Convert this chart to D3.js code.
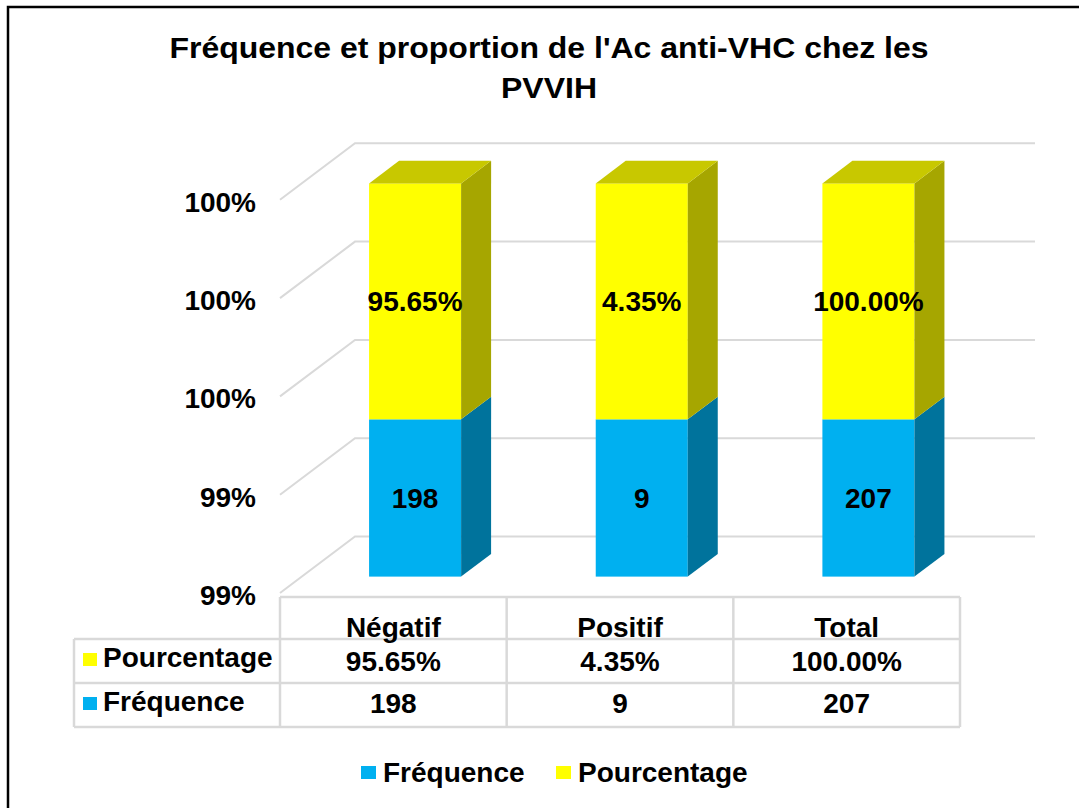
<!DOCTYPE html>
<html>
<head>
<meta charset="utf-8">
<script src="https://cdn.jsdelivr.net/npm/d3@7"></script>
<style>
  body { margin: 0; background: #fff; }
  svg text { font-family: "Liberation Sans", Arial, sans-serif; font-weight: bold; fill: #000; }
</style>
</head>
<body>
<svg id="chart" width="1079" height="808"></svg>
<script>
// data
const categories = ['Négatif', 'Positif', 'Total'];
const frequence = [198, 9, 207];
const pourcentage = [0.9565, 0.0435, 1.0];
const freqLabels = ['198', '9', '207'];
const pctLabels = ['95.65%', '4.35%', '100.00%'];
// level where the blue segment ends, as drawn in the picture (axis units)
const freqPlotted = [0.994, 0.994, 0.994];
const yTicks = [0.99, 0.9925, 0.995, 0.9975, 1.0];
const yTickLabels = ['99%', '99%', '100%', '100%', '100%'];
const seriesNames = ['Fréquence', 'Pourcentage'];

const colors = {
  freq: '#00b0f0', freqSide: '#00739c',
  pct: '#ffff00', pctSide: '#a6a600', pctTop: '#c8c800',
  grid: '#d9d9d9'
};
const fs = 28;

const svg = d3.select('#chart');

// frame
svg.append('rect')
  .attr('x', 8).attr('y', 7).attr('width', 1100).attr('height', 850)
  .attr('fill', 'none').attr('stroke', '#000').attr('stroke-width', 2.5);

// title
const title = svg.append('g').attr('transform', 'translate(549,0) scale(1.066,1)');
title.append('text').attr('x', 0).attr('y', 58).attr('text-anchor', 'middle')
  .attr('font-size', 30).text("Fréquence et proportion de l'Ac anti-VHC chez les");
title.append('text').attr('x', 0).attr('y', 98).attr('text-anchor', 'middle')
  .attr('font-size', 30).text('PVVIH');

// 3d geometry
const depth = { dx: 75, dy: -56.5 };
const barDepth = { from: 0.29, to: 0.69 };
const yMin = yTicks[0], yMax = yTicks[yTicks.length - 1];

const x = d3.scaleBand()
  .domain(categories)
  .range([280, 960])
  .paddingInner(0.594)
  .paddingOuter(0.297);

const y = d3.scaleLinear().domain([yMin, yMax]).range([593, 593 - 4 * 98.3]);

// walls / gridlines
const grid = svg.append('g').attr('stroke', colors.grid).attr('stroke-width', 2).attr('fill', 'none');
yTicks.forEach(t => {
  grid.append('polyline')
    .attr('points', [
      [x.range()[0], y(t)],
      [x.range()[0] + depth.dx, y(t) + depth.dy],
      [x.range()[1] + depth.dx, y(t) + depth.dy]
    ].join(' '));
});

// y tick labels
svg.append('g').selectAll('text')
  .data(yTicks)
  .join('text')
  .attr('x', 256)
  .attr('y', d => y(d) + 12)
  .attr('text-anchor', 'end')
  .attr('font-size', fs)
  .text((d, i) => yTickLabels[i]);

// bars
const ox = depth.dx * barDepth.from, oy = depth.dy * barDepth.from;
const bdx = depth.dx * (barDepth.to - barDepth.from), bdy = depth.dy * (barDepth.to - barDepth.from);
const bw = x.bandwidth();

const stacks = categories.map((c, i) => {
  const f = Math.min(freqPlotted[i], yMax);
  const p = Math.min(freqPlotted[i] + pourcentage[i], yMax);
  return [
    { cat: c, lo: yMin, hi: f, front: colors.freq, side: colors.freqSide, top: colors.freq, label: freqLabels[i], last: false },
    { cat: c, lo: f, hi: p, front: colors.pct, side: colors.pctSide, top: colors.pctTop, label: pctLabels[i], last: true }
  ];
});

const bars = svg.append('g').selectAll('g')
  .data(stacks)
  .join('g');

bars.each(function (segs) {
  const g = d3.select(this);
  segs.forEach(s => {
    const x0 = x(s.cat) + ox, x1 = x0 + bw;
    const yb = y(s.lo) + oy, yt = y(s.hi) + oy;
    g.append('rect')
      .attr('x', x0).attr('y', yt).attr('width', bw).attr('height', yb - yt)
      .attr('fill', s.front);
    g.append('polygon')
      .attr('points', [[x1, yt], [x1 + bdx, yt + bdy], [x1 + bdx, yb + bdy], [x1, yb]].join(' '))
      .attr('fill', s.side);
    if (s.last) {
      g.append('polygon')
        .attr('points', [[x0, yt], [x0 + bdx, yt + bdy], [x1 + bdx, yt + bdy], [x1, yt]].join(' '))
        .attr('fill', s.top);
    }
    g.append('text')
      .attr('x', x0 + bw / 2)
      .attr('y', (yt + yb) / 2 + 10)
      .attr('text-anchor', 'middle')
      .attr('font-size', fs)
      .text(s.label);
  });
});

// data table
const rowY = [597, 639, 683, 727];
const colX = [x.range()[0], ...categories.slice(1).map(c => x(c) - x.step() * x.paddingInner() / 2), x.range()[1]];
const tbl = svg.append('g').attr('stroke', colors.grid).attr('stroke-width', 2.5).attr('fill', 'none');
tbl.append('line').attr('x1', colX[0]).attr('x2', colX[3]).attr('y1', rowY[0]).attr('y2', rowY[0]);
[1, 2, 3].forEach(r => tbl.append('line').attr('x1', 74).attr('x2', colX[3]).attr('y1', rowY[r]).attr('y2', rowY[r]));
colX.forEach(cx => tbl.append('line').attr('x1', cx).attr('x2', cx).attr('y1', rowY[0]).attr('y2', rowY[3]));
tbl.append('line').attr('x1', 74).attr('x2', 74).attr('y1', rowY[1]).attr('y2', rowY[3]);

const colCenter = c => x(c) + bw / 2;
svg.append('g').selectAll('text').data(categories).join('text')
  .attr('x', colCenter).attr('y', 637).attr('text-anchor', 'middle').attr('font-size', fs)
  .text(d => d);
svg.append('g').selectAll('text').data(categories).join('text')
  .attr('x', colCenter).attr('y', 671).attr('text-anchor', 'middle').attr('font-size', fs)
  .text((d, i) => pctLabels[i]);
svg.append('g').selectAll('text').data(categories).join('text')
  .attr('x', colCenter).attr('y', 713).attr('text-anchor', 'middle').attr('font-size', fs)
  .text((d, i) => d3.format('d')(frequence[i]));

const rowKeys = [
  { name: seriesNames[1], color: colors.pct, y: 667 },
  { name: seriesNames[0], color: colors.freq, y: 711 }
];
rowKeys.forEach(k => {
  svg.append('rect').attr('x', 83).attr('y', k.y - 14).attr('width', 14).attr('height', 13).attr('fill', k.color);
  svg.append('text').attr('x', 103).attr('y', k.y).attr('font-size', fs).text(k.name);
});

// legend
const legendItems = [
  { name: seriesNames[0], color: colors.freq, x: 361 },
  { name: seriesNames[1], color: colors.pct, x: 556 }
];
const legend = svg.append('g').selectAll('g').data(legendItems).join('g')
  .attr('transform', d => `translate(${d.x},766)`);
legend.append('rect').attr('width', 15).attr('height', 13).attr('fill', d => d.color);
legend.append('text').attr('x', 22).attr('y', 16).attr('font-size', fs).text(d => d.name);
</script>
</body>
</html>
